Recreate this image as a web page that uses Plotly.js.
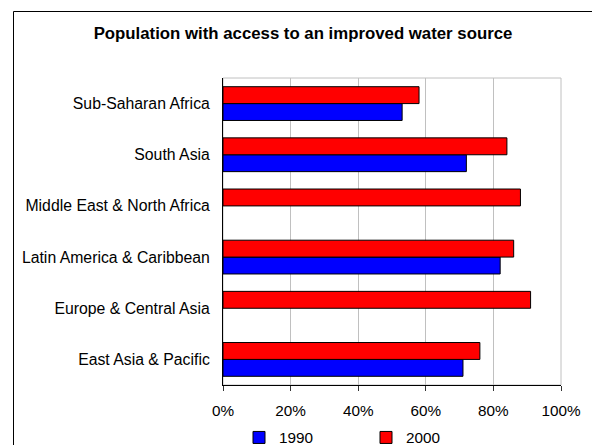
<!DOCTYPE html>
<html>
<head>
<meta charset="utf-8">
<script src="https://cdn.plot.ly/plotly-3.0.1.min.js"></script>
<style>
  html, body { margin: 0; padding: 0; background: #ffffff; }
  #chart { width: 592px; height: 445px; }
</style>
</head>
<body>
<div id="chart"></div>
<script>
// Regions, listed bottom to top as they appear on the category axis
const regions = [
  "East Asia & Pacific",
  "Europe & Central Asia",
  "Latin America & Caribbean",
  "Middle East & North Africa",
  "South Asia",
  "Sub-Saharan Africa"
];

// Share of population with access to an improved water source (fraction)
const access1990 = [0.71, null, 0.82, null, 0.72, 0.53];
const access2000 = [0.76, 0.91, 0.86, 0.88, 0.84, 0.58];

const xTickVals = [0, 0.2, 0.4, 0.6, 0.8, 1.0];
const xTickText = ["0%", "20%", "40%", "60%", "80%", "100%"];

const W = 592, H = 445;
const M = { l: 223, r: 31, t: 78, b: 60 };
const plotW = W - M.l - M.r;
const plotH = H - M.t - M.b;

// convert pixel positions of the page into paper coordinates
const px2paperX = px => (px - M.l) / plotW;
const px2paperY = py => (H - M.b - py) / plotH;

const font = "Arial, 'Liberation Sans', sans-serif";

const traces = [
  {
    type: "bar",
    orientation: "h",
    name: "1990",
    y: regions,
    x: access1990,
    marker: { color: "#0000ff", line: { color: "#000000", width: 1 } },
    hoverinfo: "skip"
  },
  {
    type: "bar",
    orientation: "h",
    name: "2000",
    y: regions,
    x: access2000,
    marker: { color: "#ff0000", line: { color: "#000000", width: 1 } },
    hoverinfo: "skip"
  }
];

const layout = {
  width: W,
  height: H,
  margin: { l: M.l, r: M.r, t: M.t, b: M.b, autoexpand: false },
  paper_bgcolor: "#ffffff",
  plot_bgcolor: "#ffffff",
  font: { family: font, color: "#000000", size: 15.3 },
  title: {
    text: "<b>Population with access to an improved water source</b>",
    font: { family: font, size: 16.8, color: "#000000" },
    xref: "container", yref: "container",
    x: 303 / W, xanchor: "center",
    y: 1 - 27 / H, yanchor: "top"
  },
  barmode: "group",
  bargap: 0.34,
  bargroupgap: 0,
  xaxis: {
    range: [0, 1],
    tickvals: xTickVals,
    ticktext: xTickText,
    showgrid: true,
    gridcolor: "#c0c0c0",
    gridwidth: 1,
    zeroline: false,
    showline: true,
    linecolor: "#000000",
    linewidth: 1,
    ticks: "outside",
    ticklen: 5,
    tickcolor: "#333333",
    ticklabelstandoff: 7,
    tickfont: { family: font, size: 15.3, color: "#000000" },
    fixedrange: true
  },
  yaxis: {
    type: "category",
    categoryorder: "array",
    categoryarray: regions,
    showgrid: false,
    zeroline: false,
    showline: true,
    linecolor: "#000000",
    linewidth: 1,
    ticks: "",
    ticklabelstandoff: 9,
    tickfont: { family: font, size: 15.8, color: "#000000" },
    fixedrange: true
  },
  showlegend: true,
  legend: {
    orientation: "h",
    xref: "paper", yref: "paper",
    x: px2paperX(239), xanchor: "left",
    y: px2paperY(421), yanchor: "top",
    entrywidth: 82,
    entrywidthmode: "pixels",
    traceorder: "normal",
    bgcolor: "rgba(0,0,0,0)",
    borderwidth: 0,
    font: { family: font, size: 15.3, color: "#000000" }
  },
  shapes: [
    // light frame round the plotting area
    {
      type: "rect", xref: "paper", yref: "paper",
      x0: 0, x1: 1, y0: 0, y1: 1,
      line: { color: "#c0c0c0", width: 1 },
      layer: "below"
    },
    // outer chart frame
    {
      type: "rect", xref: "paper", yref: "paper",
      x0: px2paperX(13.5), x1: px2paperX(W + 20),
      y0: px2paperY(H + 20), y1: px2paperY(11.5),
      line: { color: "#000000", width: 1 },
      layer: "below"
    }
  ]
};

Plotly.newPlot("chart", traces, layout, { staticPlot: true, displayModeBar: false });
</script>
</body>
</html>
